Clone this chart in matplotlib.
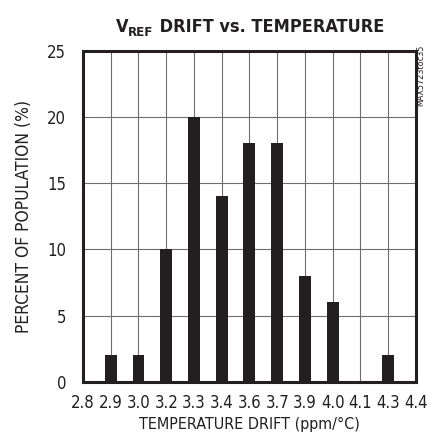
import numpy as np
import matplotlib.pyplot as plt

plt.rcParams['font.family'] = ['DejaVu Sans']
plt.rcParams['font.stretch'] = 'condensed'

tick_labels = ['2.8', '2.9', '3.0', '3.2', '3.3', '3.4', '3.6',
               '3.7', '3.9', '4.0', '4.1', '4.3', '4.4']
# percent of population at each tick position
percent = [0, 2, 2, 10, 20, 14, 18, 18, 8, 6, 0, 2, 0]

x = np.linspace(2.8, 4.4, len(tick_labels))
step = x[1] - x[0]

ink = '#231f20'
fig = plt.figure(figsize=(4.29, 4.41), dpi=100)
ax = fig.add_axes([0.1935, 0.134, 0.776, 0.751])

ax.bar(x, percent, width=step * 0.43, color=ink, zorder=3)

ax.set_xlim(2.8, 4.4)
ax.set_ylim(0, 25)
ax.set_xticks(x)
ax.set_xticklabels(tick_labels)
ax.set_yticks([0, 5, 10, 15, 20, 25])
ax.grid(True, color='#6e6e6e', linewidth=0.8, zorder=0)
ax.tick_params(length=0, labelsize=12, labelcolor=ink)
ax.tick_params(axis='x', pad=9)
ax.tick_params(axis='y', pad=12)
for s in ax.spines.values():
    s.set_linewidth(2.2)
    s.set_color(ink)

ax.set_xlabel('TEMPERATURE DRIFT (ppm/°C)', fontsize=11.5, labelpad=3, color=ink)
ax.set_ylabel('PERCENT OF POPULATION (%)', fontsize=12.5, labelpad=10, color=ink)

# title pieces: V, subscript REF, rest
r = fig.canvas.get_renderer()
pieces = [('V', 13, 0), ('REF', 9.5, -4), (' DRIFT vs. TEMPERATURE', 13, 0)]
texts = []
xpix = 0
for s, fs, dy in pieces:
    t = fig.text(0, 0, s, fontsize=fs, fontweight='bold', color=ink,
                 ha='left', va='baseline', transform=None)
    t._dy = dy
    w = t.get_window_extent(r).width
    t._x0 = xpix
    xpix += w
    texts.append(t)
start = 250 - xpix / 2
base = 441 - 32
for t in texts:
    t.set_position((start + t._x0, base + t._dy))

fig.text(0.992, 0.83, 'MAX5723toc35', rotation=90, fontsize=6.5,
         ha='right', va='center', color=ink)

fig.savefig('out.png', dpi=100)
